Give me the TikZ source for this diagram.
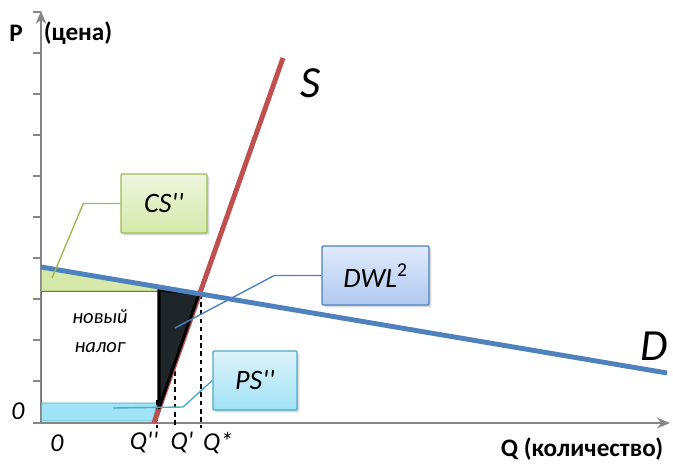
\documentclass[tikz,border=0pt]{standalone}
\usepackage{fontspec}
\setmainfont{Carlito}[Ligatures=TeXOff]
\usetikzlibrary{positioning,arrows.meta,shadows}
\definecolor{axisgray}{RGB}{134,134,134}
\definecolor{demandblue}{RGB}{79,129,189}
\definecolor{supplyred}{RGB}{192,80,77}
\definecolor{csgreen}{RGB}{155,187,89}
\definecolor{cslight}{RGB}{238,246,222}
\definecolor{csfill}{RGB}{212,233,170}
\definecolor{dwllight}{RGB}{224,234,250}
\definecolor{dwlfill}{RGB}{176,201,240}
\definecolor{psteal}{RGB}{75,172,198}
\definecolor{pslight}{RGB}{222,243,250}
\definecolor{psfill}{RGB}{160,226,246}
\definecolor{taxpurple}{RGB}{128,100,162}
\definecolor{dwldark}{RGB}{30,38,42}
\tikzset{
    axis/.style={draw=axisgray, line width=1.6pt, -{Stealth[length=11pt,width=9pt]}},
    axtick/.style={draw=axisgray, line width=1.2pt},
    demand/.style={draw=demandblue, line width=4.2pt},
    supply/.style={draw=supplyred, line width=4.2pt},
    guide/.style={draw=black, line width=1.1pt, dash pattern=on 4pt off 3pt},
    csarea/.style={draw=csgreen, fill=csfill, line width=0.8pt},
    taxarea/.style={draw=taxpurple, fill=white, line width=0.8pt},
    psarea/.style={draw=psteal, fill=psfill, line width=0.8pt},
    dwlarea/.style={draw=black, fill=dwldark, line width=2.6pt, line join=round},
    axlabel/.style={font=\bfseries\fontsize{21.5}{24}\selectfont, inner sep=0pt},
    curvelabel/.style={font=\itshape\fontsize{38}{40}\selectfont, inner sep=0pt},
    qlabel/.style={font=\itshape\fontsize{22}{24}\selectfont, inner sep=0pt},
    csbox/.style={draw=csgreen, top color=cslight, bottom color=csfill, line width=1.2pt, rounded corners=1pt, drop shadow={opacity=0.3, shadow xshift=2pt, shadow yshift=-2pt}, font=\itshape\fontsize{24}{26}\selectfont, minimum width=25.8mm, minimum height=17.7mm},
    dwlbox/.style={draw=demandblue, top color=dwllight, bottom color=dwlfill, line width=1.2pt, rounded corners=1pt, drop shadow={opacity=0.3, shadow xshift=2pt, shadow yshift=-2pt}, font=\itshape\fontsize{24}{26}\selectfont, minimum width=32.1mm, minimum height=17.7mm},
    psbox/.style={draw=psteal, top color=pslight, bottom color=psfill, line width=1.2pt, rounded corners=1pt, drop shadow={opacity=0.3, shadow xshift=2pt, shadow yshift=-2pt}, font=\itshape\fontsize{24}{26}\selectfont, minimum width=25.2mm, minimum height=17.7mm},
    csleader/.style={draw=csgreen, line width=1.2pt},
    dwlleader/.style={draw=demandblue, line width=1.2pt},
    psleader/.style={draw=psteal, line width=1.2pt}
}
\begin{document}
\begin{tikzpicture}[x=0.3mm, y=-0.3mm]
\useasboundingbox (0,0) rectangle (673,466);
\draw[axis] (33,423) -- (670,423);
\draw[axis] (41,423) -- (41,11);
\foreach \y in {12,53,...,381} \draw[axtick] (33,\y) -- (41,\y);

\draw[csarea] (41.5,268) -- (158,288) -- (158,291) -- (41.5,291) -- cycle;
\draw[taxarea] (41.5,291) rectangle (158,403);
\draw[psarea] (41.5,403) -- (157,403) -- (153,421) -- (41.5,421) -- cycle;
\node[font=\itshape\fontsize{17.5}{25}\selectfont, align=center] (tax) at (100,331) {новый\\налог};

\draw[guide] (201,294) -- (201,428);
\draw[guide] (175,330) -- (175,428);
\draw[guide] (157,400) -- (157,428);
\draw[supply] (154,423) -- (283,58);
\draw[dwlarea] (159,290) -- (199,294) -- (159,408) -- cycle;
\draw[demand] (41,267) -- (667,373);

\node[curvelabel] (slabel) at (311,83) {S};
\node[curvelabel] (dlabel) at (654,346) {D};
\node[axlabel] (pname) at (16,33) {P};
\node[axlabel] (pprice) at (78,33) {(цена)};
\node[axlabel] (qname) at (582,449) {Q (количество)};
\node[qlabel] (yzero) at (18,411) {0};
\node[qlabel] (xzero) at (57,443) {0};
\node[qlabel] (qtwo) at (144,443) {Q''};
\node[qlabel] (qone) at (182,443) {Q'};
\node[qlabel] (qstar) at (218,443) {Q*};

\coordinate (csmark) at (52,278);
\coordinate (dwlmark) at (175,328);
\coordinate (psbend) at (183,407);
\coordinate (psmark) at (113,408);
\node[csbox] (cs) at (164,203.5) {CS''};
\node[dwlbox] (dwl) at (375.5,275.5) {DWL\textsuperscript{\upshape 2}};
\node[psbox] (ps) at (255,380.5) {PS''};
\draw[csleader] (cs.west) -- ++(-37,0) -- (csmark);
\draw[dwlleader] (dwl.west) -- ++(-47,0) -- (dwlmark);
\draw[psleader] (ps.west) -- (psbend) -- (psmark);
\end{tikzpicture}
\end{document}
